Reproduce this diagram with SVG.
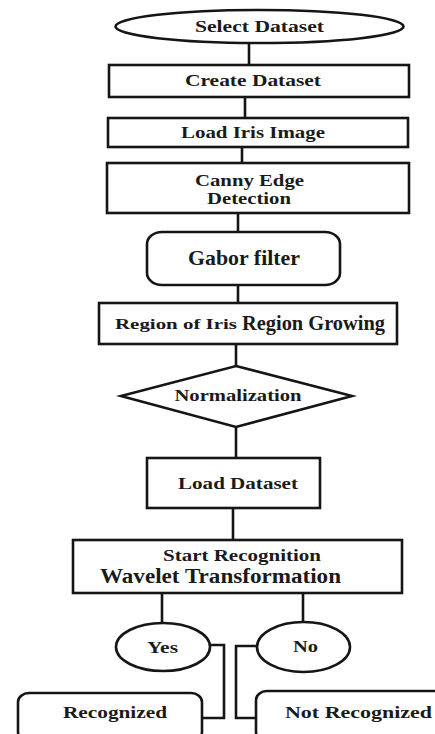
<svg xmlns="http://www.w3.org/2000/svg" width="435" height="734" viewBox="0 0 435 734">
<style>
.s{fill:#fff;stroke:#151515;stroke-width:2.6}
.c{fill:none;stroke:#151515;stroke-width:2.6}
text{font-family:"Liberation Serif","Times New Roman",serif;font-weight:bold;fill:#1a1a1a;text-anchor:middle;dominant-baseline:central}
</style>
<rect width="435" height="734" fill="#fff"/>
<g id="connectors">
<line class="c" x1="249" y1="43" x2="249" y2="65"/>
<line class="c" x1="245" y1="97" x2="245" y2="118"/>
<line class="c" x1="242" y1="147" x2="242" y2="163"/>
<line class="c" x1="238" y1="213" x2="238" y2="232"/>
<line class="c" x1="238" y1="285" x2="238" y2="303"/>
<line class="c" x1="236" y1="344" x2="236" y2="366"/>
<line class="c" x1="236" y1="427" x2="236" y2="458"/>
<line class="c" x1="233" y1="508" x2="233" y2="540"/>
<line class="c" x1="162" y1="593" x2="162" y2="623"/>
<line class="c" x1="303" y1="593" x2="303" y2="622"/>
<polyline class="c" points="210,645 224,645 224,718 202,718"/>
<polyline class="c" points="257,646 236,646 236,718 256,718"/>
</g>
<g id="select-dataset">
<ellipse class="s" cx="259.5" cy="26.5" rx="144" ry="16.5"/>
<text x="259.5" y="26" font-size="17" textLength="129" lengthAdjust="spacingAndGlyphs">Select Dataset</text>
</g>
<g id="create-dataset">
<rect class="s" x="109" y="65" width="300" height="32"/>
<text x="253" y="80.5" font-size="17" textLength="136" lengthAdjust="spacingAndGlyphs">Create Dataset</text>
</g>
<g id="load-iris-image">
<rect class="s" x="108" y="118" width="300" height="29"/>
<text x="253" y="132.5" font-size="17" textLength="144" lengthAdjust="spacingAndGlyphs">Load Iris Image</text>
</g>
<g id="canny-edge">
<rect class="s" x="107" y="163" width="302" height="50"/>
<text x="249.5" y="180" font-size="16" textLength="109" lengthAdjust="spacingAndGlyphs">Canny Edge</text>
<text x="249" y="198.5" font-size="16" textLength="84" lengthAdjust="spacingAndGlyphs">Detection</text>
</g>
<g id="gabor-filter">
<rect class="s" x="147" y="232" width="193" height="53" rx="15" ry="12"/>
<text x="244" y="258" font-size="21" textLength="112" lengthAdjust="spacingAndGlyphs">Gabor filter</text>
</g>
<g id="region-growing">
<rect class="s" x="99" y="303" width="298" height="41"/>
<text x="176" y="324" font-size="14" textLength="122" lengthAdjust="spacingAndGlyphs">Region of Iris</text>
<text x="313.5" y="323" font-size="21" textLength="143" lengthAdjust="spacingAndGlyphs">Region Growing</text>
</g>
<g id="normalization">
<polygon class="s" points="236,366 352,396 236,427 121,396"/>
<text x="238" y="395.5" font-size="16" textLength="127" lengthAdjust="spacingAndGlyphs">Normalization</text>
</g>
<g id="load-dataset">
<rect class="s" x="147" y="458" width="173" height="50"/>
<text x="238" y="483.5" font-size="17" textLength="120" lengthAdjust="spacingAndGlyphs">Load Dataset</text>
</g>
<g id="start-recognition">
<rect class="s" x="73" y="540" width="329" height="53"/>
<text x="242" y="555" font-size="16" textLength="158" lengthAdjust="spacingAndGlyphs">Start Recognition</text>
<text x="220.5" y="575.5" font-size="20" textLength="241" lengthAdjust="spacingAndGlyphs">Wavelet Transformation</text>
</g>
<g id="yes">
<ellipse class="s" cx="163" cy="647" rx="47" ry="24"/>
<text x="162.5" y="647" font-size="16" textLength="31" lengthAdjust="spacingAndGlyphs">Yes</text>
</g>
<g id="no">
<ellipse class="s" cx="303.5" cy="647" rx="46.5" ry="25"/>
<text x="305.5" y="646" font-size="16" textLength="25" lengthAdjust="spacingAndGlyphs">No</text>
</g>
<g id="recognized">
<rect class="s" x="18" y="693" width="184" height="48" rx="11" ry="9"/>
<text x="115" y="712" font-size="16" textLength="104" lengthAdjust="spacingAndGlyphs">Recognized</text>
</g>
<g id="not-recognized">
<rect class="s" x="256" y="691" width="190" height="50" rx="11" ry="9"/>
<text x="358.5" y="712" font-size="16" textLength="147" lengthAdjust="spacingAndGlyphs">Not Recognized</text>
</g>
</svg>
